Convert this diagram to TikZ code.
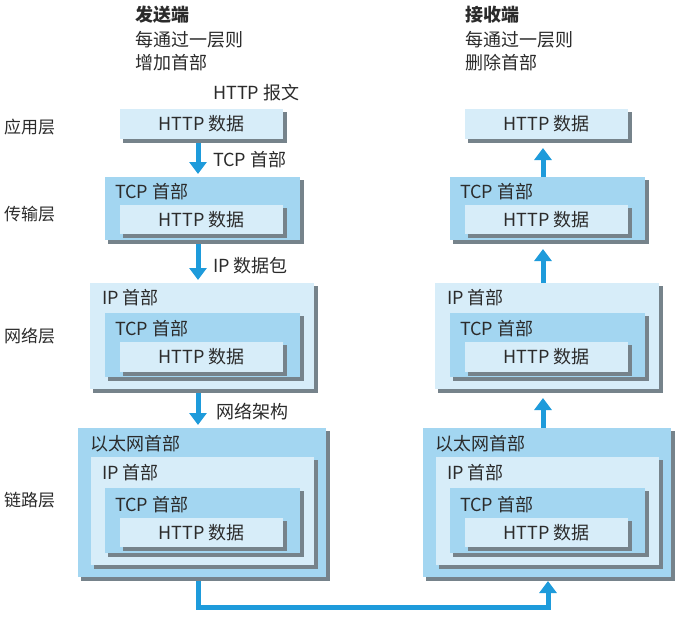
\documentclass[tikz,border=0pt]{standalone}
\usepackage{fontspec}
\setmainfont{Noto Sans CJK SC}
\usetikzlibrary{arrows.meta}
\definecolor{midblue}{HTML}{A3D6F1}
\definecolor{lightblue}{HTML}{D7EDF9}
\definecolor{shadowgray}{HTML}{76838B}
\definecolor{arrowblue}{HTML}{1E9BDB}
\definecolor{txt}{HTML}{2B2B2B}
\tikzset{
  boxbase/.style={rectangle, draw=none, anchor=north west, inner sep=0pt, outer sep=0pt},
  midbox/.style={boxbase, fill=midblue},
  lightbox/.style={boxbase, fill=lightblue},
  httpbox/.style={lightbox, font=\fontsize{18}{18}\selectfont, text=txt},
  shadowfill/.style={fill=shadowgray},
  lbl/.style={anchor=west, inner sep=0pt, font=\fontsize{18}{18}\selectfont, text=txt},
  layerlbl/.style={anchor=west, inner sep=0pt, font=\fontsize{17}{17}\selectfont, text=txt},
  arr/.style={draw=arrowblue, line width=5pt, -{Triangle[width=17pt,length=12pt]}},
}
% #1 name, #2 style, #3 x, #4 y, #5 w, #6 h, #7 text
\newcommand\layerbox[7]{%
  \node[#2, minimum width=#5pt, minimum height=#6pt] (#1) at (#3,#4) {#7};
  \fill[shadowfill] ([yshift=-3pt]#1.north east) rectangle ([xshift=3.5pt,yshift=-3.5pt]#1.south east);
  \fill[shadowfill] ([xshift=3pt]#1.south west) rectangle ([xshift=3.5pt,yshift=-3.5pt]#1.south east);
}
\begin{document}
\begin{tikzpicture}[x=1pt,y=-1pt]
\useasboundingbox (0,0) rectangle (681,624);
\fill[white] (0,0) rectangle (681,624);

% headers
\node[lbl, font=\fontsize{18}{18}\selectfont\bfseries] (sendh) at (135,15) {发送端};
\node[lbl] (send1) at (135,40) {每通过一层则};
\node[lbl] (send2) at (135,63) {增加首部};
\node[lbl, font=\fontsize{18}{18}\selectfont\bfseries] (recvh) at (465,15) {接收端};
\node[lbl] (recv1) at (465,40) {每通过一层则};
\node[lbl] (recv2) at (465,63) {删除首部};
\node[lbl] (msg) at (213,93) {HTTP 报文};

% layer labels
\node[layerlbl] (la) at (4,127) {应用层};
\node[layerlbl] (lt) at (4,214) {传输层};
\node[layerlbl] (ln) at (4,336) {网络层};
\node[layerlbl] (ll) at (4,500) {链路层};

% ===== left column (sender) =====
\layerbox{Lapp}{httpbox}{120}{109}{163}{30}{HTTP 数据}

\layerbox{Lt1}{midbox}{105}{177}{195}{63}{}
\node[lbl] at (115,192) {TCP 首部};
\layerbox{Lt2}{httpbox}{120}{205}{163}{29}{HTTP 数据}

\layerbox{Ln1}{lightbox}{90}{283}{224}{106}{}
\node[lbl] at (102,298) {IP 首部};
\layerbox{Ln2}{midbox}{105}{313}{195}{64}{}
\node[lbl] at (115,329) {TCP 首部};
\layerbox{Ln3}{httpbox}{120}{342}{163}{30}{HTTP 数据}

\layerbox{Ll1}{midbox}{78}{428}{248}{149}{}
\node[lbl] at (90,444) {以太网首部};
\layerbox{Ll2}{lightbox}{91}{457}{223}{108}{}
\node[lbl] at (102,473) {IP 首部};
\layerbox{Ll3}{midbox}{105}{488}{195}{65}{}
\node[lbl] at (115,505) {TCP 首部};
\layerbox{Ll4}{httpbox}{120}{518}{163}{29}{HTTP 数据}

% ===== right column (receiver) =====
\layerbox{Rapp}{httpbox}{465}{109}{163}{30}{HTTP 数据}

\layerbox{Rt1}{midbox}{450}{177}{195}{63}{}
\node[lbl] at (460,192) {TCP 首部};
\layerbox{Rt2}{httpbox}{465}{205}{163}{29}{HTTP 数据}

\layerbox{Rn1}{lightbox}{435}{283}{224}{106}{}
\node[lbl] at (447,298) {IP 首部};
\layerbox{Rn2}{midbox}{450}{313}{195}{64}{}
\node[lbl] at (460,329) {TCP 首部};
\layerbox{Rn3}{httpbox}{465}{342}{163}{30}{HTTP 数据}

\layerbox{Rl1}{midbox}{423}{428}{248}{149}{}
\node[lbl] at (435,444) {以太网首部};
\layerbox{Rl2}{lightbox}{436}{457}{223}{108}{}
\node[lbl] at (447,473) {IP 首部};
\layerbox{Rl3}{midbox}{450}{488}{195}{65}{}
\node[lbl] at (460,505) {TCP 首部};
\layerbox{Rl4}{httpbox}{465}{518}{163}{29}{HTTP 数据}

% ===== arrows, sender (down) =====
\draw[arr, shorten >=3pt] ([xshift=-3.5pt,yshift=-4pt]Lapp.south) -- ([xshift=-3.5pt]Lapp.south |- Lt1.north);
\node[lbl] (tcph) at (213,160) {TCP 首部};
\draw[arr, shorten >=3pt] ([xshift=-4.5pt,yshift=-4pt]Lt1.south) -- ([xshift=-4.5pt]Lt1.south |- Ln1.north);
\node[lbl] (ipd) at (213,266) {IP 数据包};
\draw[arr, shorten >=3pt] ([xshift=-4.5pt,yshift=-4pt]Ln2.south |- Ln1.south) -- ([xshift=-4.5pt]Ln2.south |- Ll1.north);
\node[lbl] (netf) at (216,412) {网络架构};

% ===== arrows, receiver (up) =====
\draw[arr, shorten >=5pt] ([xshift=-4.5pt]Rt1.north) -- ([xshift=-4.5pt,yshift=-4pt]Rt1.north |- Rapp.south);
\draw[arr, shorten >=5pt] ([xshift=-4.5pt]Rn2.north |- Rn1.north) -- ([xshift=-4.5pt,yshift=-4pt]Rt1.south);
\draw[arr, shorten >=5pt] ([xshift=-4.5pt]Rl3.north |- Rl1.north) -- ([xshift=-4.5pt,yshift=-4pt]Rn2.south |- Rn1.south);

% ===== bottom connector =====
\draw[arr] ([xshift=-4pt,yshift=-4pt]Ll1.south) -- ++(0,26) -| ([xshift=1pt,yshift=-4pt]Rl1.south);
\end{tikzpicture}
\end{document}
